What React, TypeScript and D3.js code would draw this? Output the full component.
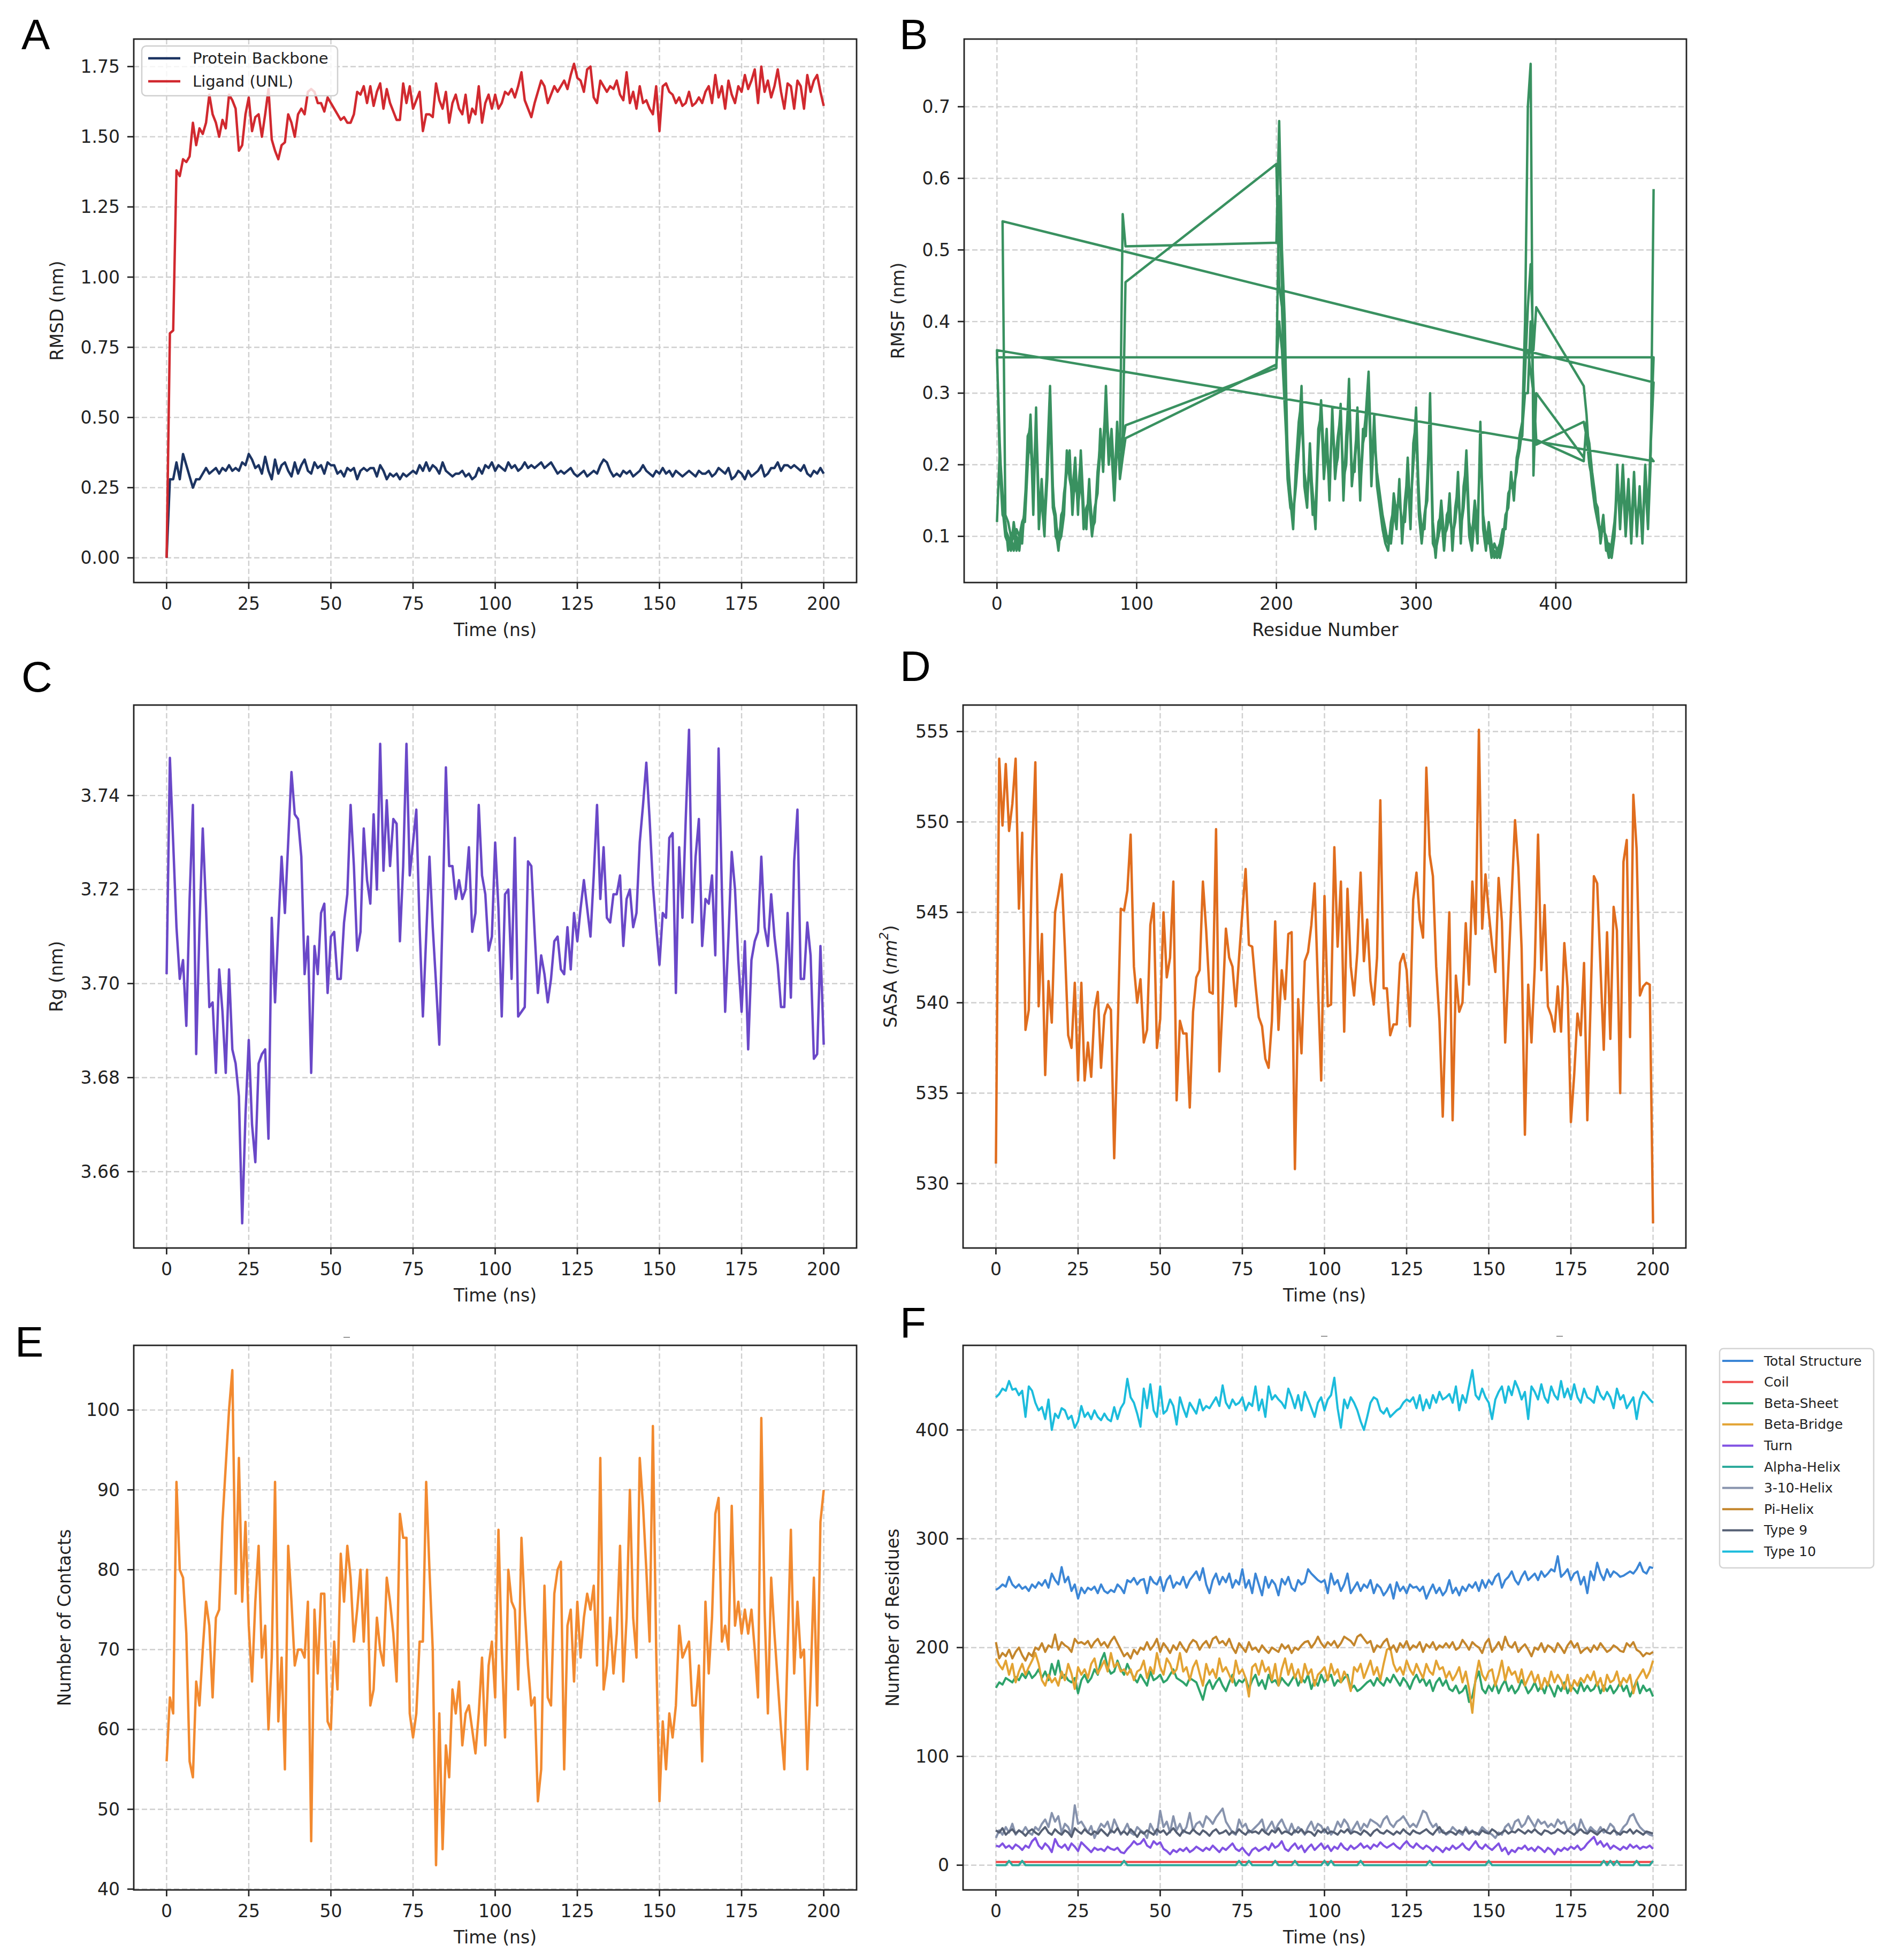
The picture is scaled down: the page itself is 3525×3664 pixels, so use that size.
import * as d3 from "d3"

// ---------- data ----------
const TIME_NS = d3.range(0, 201)
const TIME_TICKS = [0, 25, 50, 75, 100, 125, 150, 175, 200]

const RMSD_BACKBONE = [
  0.00, 0.28, 0.28, 0.34, 0.28, 0.37, 0.33, 0.29, 0.25, 0.28,
  0.28, 0.30, 0.32, 0.30, 0.31, 0.32, 0.30, 0.32, 0.31, 0.33,
  0.31, 0.32, 0.31, 0.34, 0.33, 0.37, 0.35, 0.32, 0.33, 0.30,
  0.36, 0.31, 0.28, 0.35, 0.30, 0.33, 0.34, 0.31, 0.29, 0.34,
  0.30, 0.33, 0.35, 0.31, 0.30, 0.34, 0.32, 0.33, 0.30, 0.34,
  0.33, 0.33, 0.30, 0.31, 0.29, 0.32, 0.31, 0.32, 0.28, 0.31,
  0.32, 0.31, 0.32, 0.32, 0.29, 0.33, 0.31, 0.28, 0.30, 0.29,
  0.30, 0.28, 0.30, 0.29, 0.30, 0.31, 0.30, 0.33, 0.31, 0.34,
  0.31, 0.33, 0.32, 0.30, 0.34, 0.31, 0.30, 0.29, 0.30, 0.30,
  0.31, 0.29, 0.30, 0.28, 0.29, 0.32, 0.30, 0.33, 0.32, 0.34,
  0.31, 0.33, 0.32, 0.31, 0.34, 0.32, 0.33, 0.31, 0.32, 0.34,
  0.32, 0.33, 0.32, 0.33, 0.34, 0.32, 0.33, 0.34, 0.32, 0.30,
  0.31, 0.30, 0.31, 0.32, 0.30, 0.29, 0.30, 0.31, 0.29, 0.30,
  0.31, 0.30, 0.33, 0.35, 0.34, 0.31, 0.29, 0.30, 0.29, 0.31,
  0.30, 0.31, 0.29, 0.30, 0.31, 0.33, 0.31, 0.30, 0.29, 0.31,
  0.30, 0.32, 0.30, 0.31, 0.29, 0.31, 0.30, 0.29, 0.30, 0.31,
  0.30, 0.29, 0.31, 0.30, 0.30, 0.31, 0.29, 0.30, 0.32, 0.31,
  0.30, 0.32, 0.28, 0.29, 0.31, 0.30, 0.28, 0.31, 0.29, 0.30,
  0.31, 0.33, 0.29, 0.30, 0.32, 0.32, 0.34, 0.31, 0.33, 0.33,
  0.32, 0.33, 0.32, 0.31, 0.33, 0.30, 0.29, 0.31, 0.30, 0.32,
  0.30,
]

const RMSD_LIGAND = [
  0.00, 0.80, 0.81, 1.38, 1.36, 1.42, 1.41, 1.43, 1.55, 1.47,
  1.53, 1.51, 1.55, 1.65, 1.58, 1.55, 1.50, 1.56, 1.53, 1.65,
  1.63, 1.60, 1.45, 1.47, 1.58, 1.64, 1.52, 1.57, 1.58, 1.50,
  1.58, 1.67, 1.49, 1.45, 1.42, 1.47, 1.48, 1.58, 1.55, 1.50,
  1.58, 1.60, 1.58, 1.66, 1.67, 1.66, 1.62, 1.62, 1.59, 1.64,
  1.62, 1.60, 1.58, 1.56, 1.57, 1.55, 1.55, 1.58, 1.66, 1.65,
  1.68, 1.62, 1.68, 1.61, 1.66, 1.69, 1.60, 1.67, 1.62, 1.59,
  1.56, 1.56, 1.69, 1.62, 1.68, 1.60, 1.63, 1.66, 1.52, 1.58,
  1.58, 1.57, 1.69, 1.63, 1.60, 1.66, 1.55, 1.62, 1.65, 1.60,
  1.58, 1.65, 1.55, 1.60, 1.58, 1.68, 1.55, 1.62, 1.65, 1.60,
  1.65, 1.60, 1.62, 1.66, 1.65, 1.67, 1.64, 1.68, 1.73, 1.63,
  1.60, 1.57, 1.62, 1.66, 1.70, 1.68, 1.62, 1.65, 1.68, 1.66,
  1.68, 1.70, 1.67, 1.72, 1.76, 1.71, 1.70, 1.66, 1.74, 1.75,
  1.64, 1.62, 1.70, 1.68, 1.66, 1.68, 1.67, 1.70, 1.65, 1.63,
  1.73, 1.62, 1.66, 1.60, 1.68, 1.62, 1.63, 1.60, 1.58, 1.68,
  1.52, 1.68, 1.69, 1.66, 1.65, 1.62, 1.64, 1.61, 1.62, 1.66,
  1.61, 1.62, 1.64, 1.62, 1.66, 1.68, 1.62, 1.72, 1.64, 1.68,
  1.60, 1.70, 1.65, 1.62, 1.68, 1.66, 1.72, 1.67, 1.70, 1.74,
  1.62, 1.75, 1.66, 1.70, 1.64, 1.68, 1.74, 1.66, 1.60, 1.69,
  1.68, 1.60, 1.70, 1.68, 1.60, 1.72, 1.66, 1.70, 1.72, 1.66,
  1.61,
]

// RMSF: four chains, each resolved in three stretches of residues
const RESIDUES = [...d3.range(0, 94, 2), ...d3.range(200, 388, 2), ...d3.range(420, 472, 2)]
const RES_TICKS = [0, 100, 200, 300, 400]

const RMSF_CHAIN_1 = [
  0.12, 0.22, 0.16, 0.11, 0.10, 0.08, 0.12, 0.09, 0.09, 0.11,
  0.14, 0.24, 0.25, 0.14, 0.28, 0.11, 0.17, 0.12, 0.19, 0.29,
  0.15, 0.13, 0.08, 0.12, 0.15, 0.21, 0.20, 0.14, 0.18, 0.15,
  0.20, 0.12, 0.13, 0.16, 0.11, 0.12, 0.19, 0.23, 0.21, 0.31,
  0.21, 0.24, 0.17, 0.25, 0.22, 0.55, 0.505,
  0.51, 0.68, 0.50, 0.40, 0.21, 0.16, 0.12, 0.19, 0.24, 0.31,
  0.17, 0.14, 0.23, 0.15, 0.12, 0.25, 0.27, 0.19, 0.25, 0.15,
  0.28, 0.18, 0.22, 0.28, 0.16, 0.23, 0.32, 0.17, 0.21, 0.26,
  0.15, 0.25, 0.24, 0.31, 0.18, 0.27, 0.17, 0.14, 0.11, 0.09,
  0.08, 0.12, 0.14, 0.11, 0.18, 0.09, 0.15, 0.19, 0.11, 0.23,
  0.26, 0.13, 0.09, 0.13, 0.16, 0.30, 0.11, 0.07, 0.12, 0.13,
  0.08, 0.13, 0.14, 0.10, 0.12, 0.19, 0.09, 0.17, 0.20, 0.10,
  0.08, 0.13, 0.09, 0.26, 0.11, 0.08, 0.12, 0.09, 0.07, 0.08,
  0.07, 0.09, 0.13, 0.14, 0.19, 0.15, 0.21, 0.23, 0.24, 0.33,
  0.42, 0.48, 0.36, 0.42,
  0.31, 0.27, 0.21, 0.17, 0.14, 0.12, 0.10, 0.13, 0.08, 0.09,
  0.08, 0.11, 0.19, 0.11, 0.18, 0.10, 0.16, 0.11, 0.19, 0.10,
  0.17, 0.10, 0.20, 0.13, 0.23, 0.315,
]
const RMSF_CHAIN_2 = [
  null, null, 0.54, 0.13, 0.12, 0.10, 0.08, 0.11, 0.10, 0.12,
  0.12, 0.20, 0.27, 0.16, 0.25, 0.13, 0.15, 0.10, 0.21, 0.31,
  0.17, 0.10, 0.09, 0.10, 0.13, 0.22, 0.18, 0.16, 0.21, 0.13,
  0.22, 0.14, 0.11, 0.18, 0.10, 0.14, 0.16, 0.25, 0.19, 0.28,
  0.23, 0.22, 0.15, 0.23, 0.20, 0.24, 0.455,
  0.62, 0.45, 0.42, 0.30, 0.18, 0.14, 0.13, 0.17, 0.22, 0.27,
  0.19, 0.16, 0.20, 0.13, 0.14, 0.22, 0.29, 0.21, 0.22, 0.17,
  0.26, 0.20, 0.24, 0.27, 0.18, 0.20, 0.29, 0.19, 0.19, 0.28,
  0.17, 0.23, 0.27, 0.33, 0.20, 0.24, 0.19, 0.16, 0.13, 0.11,
  0.09, 0.10, 0.16, 0.13, 0.16, 0.11, 0.13, 0.21, 0.13, 0.21,
  0.28, 0.15, 0.11, 0.11, 0.18, 0.27, 0.09, 0.08, 0.10, 0.15,
  0.10, 0.11, 0.16, 0.08, 0.14, 0.17, 0.11, 0.15, 0.22, 0.12,
  0.10, 0.15, 0.11, 0.24, 0.13, 0.10, 0.10, 0.07, 0.09, 0.08,
  0.09, 0.11, 0.11, 0.16, 0.17, 0.17, 0.19, 0.24, 0.26, 0.40,
  0.70, 0.76, 0.185, 0.30,
  0.21, 0.25, 0.23, 0.19, 0.16, 0.12, 0.11, 0.11, 0.10, 0.08,
  0.09, 0.12, 0.17, 0.13, 0.20, 0.12, 0.18, 0.09, 0.17, 0.12,
  0.15, 0.10, 0.18, 0.11, 0.21, 0.205,
]
const RMSF_CHAIN_3 = [
  0.36, 0.20, 0.13, 0.12, 0.08, 0.10, 0.11, 0.08, 0.10, 0.09,
  0.15, 0.21, 0.23, 0.17, 0.26, 0.12, 0.18, 0.11, 0.18, 0.28,
  0.14, 0.12, 0.10, 0.11, 0.16, 0.19, 0.22, 0.13, 0.19, 0.14,
  0.18, 0.13, 0.12, 0.17, 0.12, 0.13, 0.17, 0.22, 0.23, 0.29,
  0.20, 0.25, 0.18, 0.24, 0.19, 0.23, 0.255,
  0.335, 0.575, 0.45, 0.35, 0.22, 0.15, 0.11, 0.20, 0.26, 0.29,
  0.18, 0.15, 0.21, 0.16, 0.11, 0.23, 0.28, 0.18, 0.23, 0.16,
  0.27, 0.19, 0.21, 0.285, 0.15, 0.24, 0.30, 0.18, 0.20, 0.25,
  0.17, 0.24, 0.26, 0.32, 0.17, 0.25, 0.19, 0.15, 0.12, 0.10,
  0.09, 0.11, 0.15, 0.12, 0.17, 0.10, 0.14, 0.20, 0.12, 0.22,
  0.25, 0.14, 0.10, 0.12, 0.17, 0.28, 0.10, 0.08, 0.11, 0.14,
  0.09, 0.12, 0.15, 0.09, 0.13, 0.18, 0.10, 0.16, 0.21, 0.11,
  0.09, 0.14, 0.10, 0.25, 0.12, 0.09, 0.11, 0.08, 0.08, 0.07,
  0.08, 0.10, 0.12, 0.15, 0.18, 0.16, 0.20, 0.22, 0.25, 0.36,
  0.36, 0.33, 0.30, 0.228,
  0.26, 0.24, 0.20, 0.18, 0.15, 0.14, 0.09, 0.12, 0.09, 0.07,
  0.08, 0.10, 0.20, 0.12, 0.17, 0.11, 0.18, 0.10, 0.18, 0.11,
  0.16, 0.09, 0.19, 0.12, 0.24, 0.35,
]
const RMSF_CHAIN_4 = [
  0.35, 0.23, 0.14, 0.10, 0.09, 0.09, 0.10, 0.10, 0.08, 0.12,
  0.13, 0.23, 0.26, 0.13, 0.27, 0.14, 0.16, 0.13, 0.20, 0.30,
  0.16, 0.11, 0.08, 0.13, 0.14, 0.20, 0.21, 0.15, 0.17, 0.16,
  0.21, 0.11, 0.14, 0.15, 0.10, 0.13, 0.18, 0.24, 0.20, 0.30,
  0.22, 0.23, 0.16, 0.26, 0.18, 0.21, 0.237,
  0.34, 0.40, 0.36, 0.28, 0.20, 0.16, 0.13, 0.17, 0.23, 0.30,
  0.19, 0.15, 0.22, 0.14, 0.13, 0.24, 0.27, 0.21, 0.24, 0.17,
  0.27, 0.20, 0.23, 0.28, 0.17, 0.21, 0.31, 0.19, 0.20, 0.27,
  0.16, 0.23, 0.25, 0.33, 0.19, 0.26, 0.18, 0.15, 0.12, 0.10,
  0.10, 0.09, 0.13, 0.14, 0.15, 0.12, 0.12, 0.18, 0.14, 0.20,
  0.25, 0.16, 0.09, 0.13, 0.15, 0.27, 0.12, 0.08, 0.10, 0.12,
  0.10, 0.11, 0.13, 0.10, 0.12, 0.16, 0.11, 0.14, 0.19, 0.12,
  0.10, 0.12, 0.11, 0.23, 0.13, 0.10, 0.09, 0.09, 0.07, 0.08,
  0.08, 0.10, 0.12, 0.15, 0.18, 0.16, 0.20, 0.22, 0.25, 0.30,
  0.30, 0.40, 0.31, 0.235,
  0.205, 0.26, 0.22, 0.17, 0.14, 0.13, 0.10, 0.12, 0.09, 0.08,
  0.07, 0.10, 0.18, 0.12, 0.19, 0.11, 0.17, 0.10, 0.18, 0.11,
  0.16, 0.09, 0.19, 0.12, 0.22, 0.585,
]

const RG = [
  3.702, 3.748, 3.730, 3.712, 3.701, 3.705, 3.691, 3.718, 3.738, 3.685,
  3.712, 3.733, 3.716, 3.695, 3.696, 3.681, 3.703, 3.694, 3.681, 3.703,
  3.686, 3.683, 3.676, 3.649, 3.672, 3.688, 3.670, 3.662, 3.683, 3.685,
  3.686, 3.667, 3.714, 3.696, 3.712, 3.727, 3.715, 3.730, 3.745, 3.736,
  3.735, 3.727, 3.702, 3.710, 3.681, 3.708, 3.702, 3.715, 3.717, 3.698,
  3.710, 3.711, 3.701, 3.701, 3.713, 3.719, 3.738, 3.725, 3.707, 3.711,
  3.733, 3.722, 3.717, 3.736, 3.720, 3.751, 3.724, 3.739, 3.725, 3.735,
  3.734, 3.709, 3.725, 3.751, 3.723, 3.730, 3.737, 3.712, 3.693, 3.710,
  3.727, 3.712, 3.700, 3.687, 3.715, 3.746, 3.725, 3.725, 3.718, 3.722,
  3.718, 3.720, 3.729, 3.711, 3.715, 3.738, 3.723, 3.719, 3.707, 3.710,
  3.730, 3.716, 3.693, 3.719, 3.720, 3.701, 3.731, 3.693, 3.694, 3.695,
  3.726, 3.725, 3.711, 3.698, 3.706, 3.702, 3.696, 3.701, 3.709, 3.710,
  3.703, 3.702, 3.712, 3.703, 3.715, 3.709, 3.716, 3.722, 3.716, 3.710,
  3.723, 3.738, 3.718, 3.729, 3.714, 3.713, 3.719, 3.719, 3.723, 3.708,
  3.718, 3.720, 3.712, 3.715, 3.730, 3.738, 3.747, 3.735, 3.721, 3.712,
  3.704, 3.715, 3.714, 3.731, 3.732, 3.698, 3.729, 3.714, 3.735, 3.754,
  3.713, 3.727, 3.735, 3.708, 3.718, 3.717, 3.723, 3.706, 3.750, 3.720,
  3.694, 3.710, 3.728, 3.720, 3.705, 3.694, 3.709, 3.686, 3.705, 3.709,
  3.711, 3.727, 3.712, 3.708, 3.719, 3.710, 3.704, 3.695, 3.695, 3.715,
  3.697, 3.726, 3.737, 3.701, 3.701, 3.713, 3.706, 3.684, 3.685, 3.708,
  3.687,
]

const SASA = [
  531.1, 553.5, 549.8, 553.2, 549.5, 551.0, 553.5, 545.2, 549.4, 538.5,
  539.6, 548.0, 553.3, 539.8, 543.8, 536.0, 541.2, 538.9, 545.0, 546.0,
  547.1, 543.0, 538.2, 537.5, 541.1, 535.7, 541.1, 535.7, 537.8, 535.9,
  539.6, 540.6, 536.4, 539.3, 539.9, 539.6, 531.4, 538.0, 545.2, 545.1,
  546.2, 549.3, 542.0, 540.0, 541.3, 537.8, 538.5, 544.3, 545.5, 537.5,
  539.1, 545.0, 541.4, 542.5, 546.7, 534.6, 539.0, 538.3, 538.3, 534.2,
  539.5, 541.4, 541.8, 546.7, 544.0, 540.6, 540.5, 549.6, 536.2, 540.0,
  544.1, 542.5, 542.0, 539.8, 542.5, 545.0, 547.4, 543.2, 543.1, 541.0,
  539.2, 538.7, 536.9, 536.4, 539.0, 544.5, 538.5, 541.8, 540.2, 543.8,
  543.9, 530.8, 540.2, 537.2, 542.3, 542.8, 544.3, 546.6, 541.0, 535.7,
  545.9, 539.8, 539.9, 548.6, 543.1, 546.7, 538.4, 546.3, 542.0, 540.4,
  542.8, 547.2, 542.3, 544.6, 541.2, 539.9, 542.5, 551.2, 540.8, 540.8,
  538.2, 538.8, 538.8, 542.2, 542.7, 541.8, 538.7, 545.7, 547.2, 544.6,
  543.6, 553.0, 548.2, 547.0, 542.0, 539.0, 533.7, 540.0, 545.0, 533.5,
  541.5, 539.5, 540.0, 544.4, 541.0, 546.7, 543.8, 555.1, 544.1, 547.1,
  545.0, 543.2, 541.7, 546.9, 544.5, 537.8, 542.0, 546.0, 550.1, 547.5,
  543.0, 532.7, 541.0, 537.8, 542.0, 549.3, 541.8, 545.4, 539.8, 539.3,
  538.4, 540.9, 538.4, 543.3, 540.8, 533.4, 536.0, 539.4, 538.2, 542.2,
  533.5, 540.0, 547.0, 546.6, 542.0, 537.4, 543.9, 538.0, 545.3, 544.0,
  535.0, 547.8, 549.0, 538.1, 551.5, 548.5, 540.4, 540.9, 541.1, 541.0,
  527.8,
]

const CONTACTS = [
  56, 64, 62, 91, 80, 79, 72, 56, 54, 66,
  63, 70, 76, 73, 64, 74, 75, 86, 93, 100,
  105, 77, 94, 76, 86, 73, 66, 76, 83, 69,
  73, 60, 69, 91, 61, 69, 55, 83, 76, 68,
  70, 70, 69, 76, 46, 75, 67, 77, 77, 61,
  60, 71, 65, 82, 76, 83, 79, 71, 75, 80,
  71, 80, 63, 65, 74, 70, 68, 79, 76, 72,
  66, 87, 84, 84, 62, 59, 62, 71, 71, 91,
  80, 70, 43, 62, 45, 58, 54, 65, 62, 66,
  58, 62, 63, 60, 57, 62, 69, 58, 68, 71,
  64, 85, 70, 59, 80, 76, 75, 65, 84, 75,
  68, 63, 64, 51, 55, 78, 64, 63, 77, 80,
  81, 55, 73, 75, 66, 76, 69, 74, 77, 75,
  78, 68, 94, 65, 68, 74, 67, 72, 83, 66,
  74, 90, 74, 69, 94, 88, 80, 71, 98, 70,
  51, 61, 55, 62, 59, 63, 73, 69, 70, 71,
  63, 63, 68, 56, 76, 67, 74, 87, 89, 71,
  73, 70, 88, 73, 76, 72, 75, 72, 75, 70,
  64, 99, 75, 62, 79, 72, 66, 60, 55, 70,
  85, 67, 76, 69, 70, 55, 66, 79, 63, 86,
  90,
]

// secondary structure counts (residues)
const SS_TOTAL = [
  253, 255, 258, 256, 265, 258, 255, 258, 254, 256,
  252, 258, 255, 260, 257, 262, 255, 268, 262, 258,
  274, 260, 265, 252, 258, 245, 255, 250, 255, 253,
  256, 250, 258, 252, 250, 253, 251, 258, 255, 250,
  262, 260, 264, 258, 262, 263, 250, 265, 260, 258,
  265, 252, 262, 266, 255, 260, 258, 265, 255, 262,
  266, 270, 262, 273, 258, 250, 262, 268, 258, 265,
  260, 268, 255, 262, 258, 272, 255, 262, 250, 268,
  258, 248, 265, 255, 262, 258, 248, 263, 258, 265,
  255, 252, 262, 258, 260, 272, 268, 265, 262, 260,
  262, 250, 268, 258, 262, 252, 258, 268, 250, 255,
  260, 252, 258, 255, 262, 250, 258, 255, 248, 252,
  258, 245, 260, 252, 256, 250, 258, 255, 256, 252,
  256, 245, 252, 258, 250, 255, 248, 252, 262, 250,
  255, 248, 256, 252, 258, 255, 260, 252, 262, 255,
  262, 258, 265, 268, 255, 262, 265, 270, 262, 258,
  265, 270, 262, 265, 268, 262, 270, 265, 268, 272,
  270, 284, 265, 268, 272, 262, 268, 270, 258, 265,
  250, 270, 262, 278, 268, 262, 272, 265, 270, 268,
  265, 266, 268, 270, 268, 272, 278, 270, 268, 274,
  273,
]
const SS_COIL = [
  3, 3, 3, 3, 3, 3, 3, 3, 3, 3,
  3, 3, 3, 3, 3, 3, 3, 3, 3, 3,
  3, 3, 3, 3, 3, 3, 3, 3, 3, 3,
  3, 3, 3, 3, 3, 3, 3, 3, 3, 3,
  3, 3, 3, 3, 3, 3, 3, 3, 3, 3,
  3, 3, 3, 3, 3, 3, 3, 3, 3, 3,
  3, 3, 3, 3, 3, 3, 3, 3, 3, 3,
  3, 3, 3, 3, 3, 3, 3, 3, 3, 3,
  3, 3, 3, 3, 3, 3, 3, 3, 3, 3,
  3, 3, 3, 3, 3, 3, 3, 3, 3, 3,
  3, 3, 3, 3, 3, 3, 3, 3, 3, 3,
  3, 3, 3, 3, 3, 3, 3, 3, 3, 3,
  3, 3, 3, 3, 3, 3, 3, 3, 3, 3,
  3, 3, 3, 3, 3, 3, 3, 3, 3, 3,
  3, 3, 3, 3, 3, 3, 3, 3, 3, 3,
  3, 3, 3, 3, 3, 3, 3, 3, 3, 3,
  3, 3, 3, 3, 3, 3, 3, 3, 3, 3,
  3, 3, 3, 3, 3, 3, 3, 3, 3, 3,
  3, 3, 3, 3, 3, 3, 3, 3, 3, 3,
  3, 3, 3, 3, 3, 3, 3, 3, 3, 3,
  3,
]
const SS_BETA_SHEET = [
  163, 168, 166, 172, 170, 168, 173, 170, 176, 172,
  178, 172, 175, 180, 172, 178, 170, 185, 175, 188,
  172, 175, 170, 168, 172, 158, 170, 175, 168, 172,
  180, 175, 188, 195, 182, 176, 178, 188, 180, 175,
  185, 178, 172, 168, 175, 170, 165, 178, 170, 172,
  175, 168, 170, 175, 180, 172, 170, 168, 165, 172,
  170, 168, 160, 152, 165, 170, 162, 168, 172, 165,
  160, 168, 175, 165, 170, 168, 172, 162, 170, 175,
  165, 170, 162, 175, 168, 170, 165, 172, 168, 165,
  170, 175, 165, 172, 168, 175, 162, 170, 165, 175,
  168, 172, 175, 165, 170, 168, 172, 175, 162, 165,
  160, 162, 165, 168, 170, 165, 172, 168, 165, 172,
  168, 175, 170, 165, 172, 168, 162, 170, 175, 168,
  172, 165, 170, 160, 168, 172, 165, 170, 162, 160,
  165, 158, 160, 165, 150, 155, 170, 178, 162, 158,
  165, 160, 168, 158, 165, 170, 160, 165, 158, 162,
  170, 165, 158, 162, 168, 160, 165, 158, 168, 162,
  155, 165, 160, 168, 158, 165, 162, 158, 168, 160,
  165, 160, 162, 168, 158, 165, 160, 165, 158, 162,
  168, 160, 165, 155, 162, 170, 158, 165, 160, 162,
  155,
]
const SS_BETA_BRIDGE = [
  190, 184, 180, 188, 175, 185, 168, 178, 185, 175,
  182, 188, 195, 185, 170, 165, 175, 168, 172, 165,
  178, 170, 185, 176, 162, 182, 175, 180, 172, 185,
  190, 176, 182, 188, 178, 195, 182, 186, 178, 180,
  175, 180, 170, 178, 180, 188, 172, 182, 176, 195,
  182, 175, 190, 185, 176, 180, 195, 178, 182, 170,
  182, 188, 176, 165, 185, 175, 180, 172, 190, 178,
  182, 175, 168, 188, 176, 180, 172, 155, 182, 185,
  175, 188, 178, 182, 170, 185, 165, 180, 190, 175,
  185, 172, 180, 168, 185, 175, 180, 165, 175, 178,
  182, 170, 185, 175, 180, 168, 178, 172, 160, 182,
  178, 185, 172, 180, 188, 175, 182, 170, 185, 198,
  200, 185, 178, 182, 175, 188, 180, 175, 185, 178,
  172, 185, 178, 175, 188, 180, 182, 172, 178, 170,
  175, 182, 168, 178, 162, 140, 172, 188, 175, 170,
  178, 180, 165, 175, 188, 170, 182, 175, 178, 168,
  180, 165, 172, 178, 168, 175, 162, 172, 165, 178,
  168, 175, 170, 162, 175, 160, 170, 165, 172, 168,
  175, 170, 178, 165, 172, 160, 175, 168, 170, 178,
  165, 172, 168, 175, 158, 170, 175, 180, 172, 178,
  188,
]
const SS_TURN = [
  18, 17, 20, 16, 18, 15, 19, 17, 14, 18,
  16, 22, 25, 18, 15, 20, 17, 12, 24, 18,
  16, 19, 14, 20, 17, 13, 21, 18, 15, 12,
  16, 14, 15, 13, 17, 15, 14, 16, 12, 11,
  15, 18, 22, 19, 20, 24, 18, 16, 22, 19,
  21, 15, 13, 10, 14, 12, 15, 13, 16, 12,
  14, 17, 15, 13, 16, 14, 18, 15, 12, 16,
  14, 17, 20, 15, 13, 16, 12, 9, 14, 16,
  13, 15, 17, 14, 20, 16, 18, 22, 15, 13,
  17, 20, 15, 18, 12, 16, 19, 14, 17, 20,
  15, 18, 13, 17, 15, 20, 16, 14, 18, 15,
  17, 20, 16, 18, 15, 19, 17, 21, 18, 16,
  18, 20, 17, 15, 19, 22, 18, 16, 20, 17,
  15, 18, 16, 13, 17, 15, 12, 16, 14, 18,
  15, 17, 20, 16, 14, 18, 22, 17, 15, 19,
  16, 14, 17, 20, 13, 16, 10, 14, 12, 16,
  15, 18, 14, 16, 13, 17, 15, 12, 16, 14,
  10, 15, 13, 16, 14, 17, 15, 18, 14, 16,
  20, 23, 26, 19, 22, 17, 20, 15, 18, 16,
  14, 17, 15, 19, 16, 18, 15, 17, 16, 18,
  15,
]
const SS_ALPHA_HELIX = [
  0, 0, 0, 0, 4, 0, 0, 0, 4, 0,
  0, 0, 0, 0, 0, 0, 0, 0, 0, 0,
  0, 0, 0, 0, 0, 0, 0, 0, 0, 0,
  0, 0, 0, 0, 0, 0, 0, 0, 0, 4,
  0, 0, 0, 0, 0, 0, 0, 0, 0, 0,
  0, 0, 0, 0, 0, 0, 0, 0, 0, 0,
  0, 0, 0, 0, 0, 0, 0, 0, 0, 0,
  0, 0, 0, 0, 4, 0, 0, 4, 0, 0,
  0, 0, 0, 0, 0, 4, 0, 0, 0, 0,
  0, 4, 0, 0, 0, 0, 0, 0, 0, 0,
  4, 0, 4, 0, 0, 0, 0, 0, 0, 0,
  0, 4, 0, 0, 0, 0, 0, 0, 0, 0,
  0, 0, 0, 0, 0, 0, 0, 0, 0, 0,
  0, 0, 4, 0, 0, 0, 0, 0, 0, 0,
  0, 0, 0, 0, 0, 0, 0, 0, 0, 0,
  4, 0, 0, 0, 0, 0, 0, 0, 0, 0,
  0, 0, 0, 0, 0, 0, 0, 0, 0, 0,
  0, 0, 0, 0, 0, 0, 0, 0, 0, 0,
  0, 0, 0, 0, 0, 4, 0, 4, 0, 4,
  0, 0, 0, 0, 0, 4, 0, 0, 0, 0,
  4,
]
const SS_310_HELIX = [
  25, 32, 28, 35, 30, 38, 28, 32, 30, 35,
  30, 28, 35, 32, 38, 42, 35, 48, 40, 45,
  30, 38, 35, 28, 55, 38, 40, 35, 30, 36,
  25, 32, 38, 35, 40, 30, 42, 35, 28, 32,
  38, 30, 28, 35, 32, 30, 25, 38, 32, 28,
  50, 35, 40, 30, 45, 32, 38, 30, 35, 48,
  32, 38, 40, 35, 45, 42, 38, 44, 48, 52,
  40, 35, 30, 28, 42, 35, 38, 30, 32, 35,
  38, 42, 30, 35, 40, 32, 38, 42, 35, 30,
  38, 30, 35, 32, 28, 35, 40, 32, 38, 36,
  30, 35, 28, 32, 40, 35, 42, 38, 30, 35,
  40, 32, 38, 35, 42, 40, 38, 35, 42, 45,
  38, 35, 40, 42, 45, 40, 35, 38, 35, 42,
  50, 48, 40, 35, 38, 30, 32, 28, 30, 35,
  32, 30, 28, 35, 30, 32, 28, 30, 35, 32,
  30, 28, 25, 30, 28, 35, 38, 32, 40, 42,
  35, 38, 45, 40, 35, 42, 38, 40, 35, 38,
  35, 42, 38, 40, 32, 35, 38, 30, 42, 35,
  30, 35, 32, 30, 35, 30, 32, 38, 35, 28,
  30, 35, 38, 45, 47, 40, 35, 32, 30, 28,
  27,
]
const SS_PI_HELIX = [
  205, 190, 195, 192, 198, 190, 196, 200, 193, 188,
  195, 192, 200, 198, 204, 196, 202, 200, 212, 198,
  205, 202, 200, 196, 208, 204, 205, 203, 206, 200,
  205, 208, 202, 205, 200, 206, 210, 204, 198, 192,
  195, 190, 198, 194, 200, 198, 205, 198, 202, 208,
  196, 204, 200, 195, 202, 198, 205, 200, 196, 203,
  207, 205, 198, 203, 206, 200, 208, 210, 204, 206,
  202, 208, 200, 195, 204, 200, 196, 205, 198, 200,
  196, 202, 198, 195, 200, 198, 196, 203, 199, 202,
  195, 200, 198, 202, 205, 206, 200, 204, 210, 204,
  200, 205, 202, 206, 200, 204, 210, 208, 206, 202,
  210, 212, 208, 204, 206, 196, 202, 200, 205, 208,
  198, 202, 196, 204, 200, 206, 198, 202, 200, 205,
  196, 203, 200, 205, 198, 202, 200, 204, 200, 205,
  198, 200, 207, 203, 198, 205, 202, 200, 195, 204,
  208, 196, 200, 205, 198, 210, 202, 200, 205, 196,
  200, 203, 198, 192, 200, 198, 204, 196, 202, 200,
  196, 204, 200, 195, 202, 206, 200, 204, 195, 198,
  200, 196, 202, 198, 204, 200, 196, 198, 202, 200,
  197, 196, 204, 201, 205, 198, 196, 192, 195, 194,
  196,
]
const SS_TYPE_9 = [
  32, 30, 34, 28, 31, 33, 29, 32, 30, 27,
  31, 33, 30, 28, 32, 35, 30, 28, 33, 30,
  28, 32, 30, 26, 34, 31, 29, 33, 30, 28,
  31, 29, 33, 30, 27, 32, 30, 34, 29, 31,
  28, 33, 30, 26, 31, 29, 32, 30, 28, 33,
  30, 32, 28, 31, 34, 30, 27, 32, 30, 29,
  33, 30, 28, 32, 30, 27, 31, 33, 29, 30,
  32, 28, 31, 29, 33, 30, 28, 32, 30, 31,
  29, 33, 30, 28, 32, 30, 34, 29, 31, 30,
  28, 32, 30, 33, 29, 31, 30, 27, 32, 30,
  33, 29, 31, 30, 28, 32, 30, 33, 29, 31,
  30, 28, 32, 30, 27, 31, 33, 30, 29, 32,
  30, 28, 31, 29, 33, 30, 28, 32, 30, 29,
  31, 33, 30, 28, 32, 35, 30, 29, 31, 30,
  28, 32, 30, 33, 29, 31, 30, 28, 32, 30,
  29, 33, 31, 28, 30, 32, 29, 31, 30, 33,
  31, 29, 32, 30, 33, 30, 28, 32, 31, 29,
  30, 33, 31, 29, 32, 30, 28, 31, 33, 30,
  29, 32, 30, 28, 31, 33, 30, 29, 32, 30,
  28, 31, 30, 33, 29, 32, 30, 28, 31, 30,
  29,
]
const SS_TYPE_10 = [
  430, 433, 438, 436, 445, 437, 438, 432, 436, 412,
  440, 436, 425, 418, 421, 410, 428, 400, 415, 411,
  420, 418, 410, 413, 402, 408, 422, 412, 416, 410,
  418, 412, 409, 415, 410, 408, 421, 410, 420, 425,
  447, 430, 425, 415, 403, 438, 420, 442, 418, 412,
  440, 415, 418, 428, 422, 405, 430, 420, 412, 425,
  420, 415, 428, 418, 422, 420, 425, 430, 422, 441,
  425, 420, 428, 423, 425, 430, 418, 425, 422, 440,
  418, 428, 412, 440, 428, 432, 428, 425, 420, 438,
  430, 420, 432, 418, 435, 428, 420, 412, 425, 430,
  418, 428, 432, 448, 420, 402, 428, 420, 430, 425,
  418, 408, 400, 412, 425, 430, 428, 418, 415, 420,
  412, 415, 418, 420, 425, 428, 426, 430, 420, 432,
  418, 428, 420, 432, 425, 435, 428, 430, 433, 425,
  440, 418, 432, 425, 440, 455, 432, 428, 438, 430,
  425, 410, 428, 435, 440, 425, 440, 432, 445, 438,
  428, 435, 410, 440, 435, 428, 442, 430, 425, 440,
  432, 428, 445, 430, 438, 428, 442, 430, 425, 438,
  430, 428, 425, 440, 432, 428, 435, 430, 420, 438,
  428, 432, 420, 425, 430, 410, 428, 435, 432, 428,
  425,
]

const SS_NAMES = [
  "Total Structure", "Coil", "Beta-Sheet", "Beta-Bridge", "Turn",
  "Alpha-Helix", "3-10-Helix", "Pi-Helix", "Type 9", "Type 10",
]
const SS_VALUES = [
  SS_TOTAL, SS_COIL, SS_BETA_SHEET, SS_BETA_BRIDGE, SS_TURN,
  SS_ALPHA_HELIX, SS_310_HELIX, SS_PI_HELIX, SS_TYPE_9, SS_TYPE_10,
]
const SS_COLORS = [
  "#3b86d6", "#ef4a4a", "#2ea36b", "#e3a333", "#8152e3",
  "#2eaa9c", "#8793ad", "#c4862c", "#566074", "#1cbcdc",
]

// ---------- helpers ----------
const FONT = "'DejaVu Sans', sans-serif"
type Pt = [number, number]
type Box = { l: number; r: number; t: number; b: number }
type Series = { pts: Pt[]; color: string; width: number; opacity?: number }

function padded(values: number[]): [number, number] {
  const [lo, hi] = d3.extent(values) as [number, number]
  const m = (hi - lo) * 0.05
  return [lo - m, hi + m]
}

function zip(xs: number[], ys: (number | null)[]): Pt[] {
  const out: Pt[] = []
  ys.forEach((v, i) => {
    if (v != null && xs[i] != null) out.push([xs[i], v])
  })
  return out
}

interface PanelProps {
  letter: string
  letterX: number
  letterY: number
  box: Box
  xDomain: [number, number]
  yDomain: [number, number]
  xTicks: number[]
  yTicks: number[]
  yFmt: (v: number) => string
  xLabel: string
  yLabel: React.ReactNode
  yLabelX: number
  series: Series[]
  children?: React.ReactNode
}

function Panel(p: PanelProps) {
  const { box } = p
  const x = d3.scaleLinear().domain(p.xDomain).range([box.l, box.r])
  const y = d3.scaleLinear().domain(p.yDomain).range([box.b, box.t])
  const line = d3
    .line<Pt>()
    .x((d) => x(d[0]))
    .y((d) => y(d[1]))
  const cx = (box.l + box.r) / 2
  const cy = (box.t + box.b) / 2
  const clipId = "clip-" + p.letter

  return (
    <g>
      <text x={p.letterX} y={p.letterY} fontFamily="'Liberation Sans', Arial, sans-serif" fontSize={80} fill="#000">
        {p.letter}
      </text>
      <clipPath id={clipId}>
        <rect x={box.l} y={box.t} width={box.r - box.l} height={box.b - box.t} />
      </clipPath>
      {/* grid */}
      <g stroke="#c4c4c4" strokeWidth={2.4} strokeDasharray="10 5" opacity={0.8}>
        {p.xTicks.map((t) => (
          <line key={"gx" + t} x1={x(t)} x2={x(t)} y1={box.t} y2={box.b} />
        ))}
        {p.yTicks.map((t) => (
          <line key={"gy" + t} x1={box.l} x2={box.r} y1={y(t)} y2={y(t)} />
        ))}
      </g>
      {/* data */}
      <g clipPath={`url(#${clipId})`} fill="none" strokeLinejoin="round" strokeLinecap="butt">
        {p.series.map((s, i) => (
          <path key={i} d={line(s.pts) ?? ""} stroke={s.color} strokeWidth={s.width} opacity={s.opacity ?? 1} />
        ))}
      </g>
      {/* frame */}
      <rect x={box.l} y={box.t} width={box.r - box.l} height={box.b - box.t} fill="none" stroke="#222" strokeWidth={2.8} />
      {/* ticks */}
      <g stroke="#222" strokeWidth={2.7}>
        {p.xTicks.map((t) => (
          <line key={"tx" + t} x1={x(t)} x2={x(t)} y1={box.b} y2={box.b + 12} />
        ))}
        {p.yTicks.map((t) => (
          <line key={"ty" + t} x1={box.l - 12} x2={box.l} y1={y(t)} y2={y(t)} />
        ))}
      </g>
      <g fontFamily={FONT} fontSize={33} fill="#222">
        {p.xTicks.map((t) => (
          <text key={"lx" + t} x={x(t)} y={box.b + 51} textAnchor="middle">
            {d3.format("d")(t)}
          </text>
        ))}
        {p.yTicks.map((t) => (
          <text key={"ly" + t} x={box.l - 26} y={y(t)} textAnchor="end" dominantBaseline="central">
            {p.yFmt(t)}
          </text>
        ))}
        <text x={cx} y={box.b + 100} textAnchor="middle">
          {p.xLabel}
        </text>
        <text transform={`translate(${p.yLabelX},${cy}) rotate(-90)`} textAnchor="middle" dominantBaseline="central">
          {p.yLabel}
        </text>
      </g>
      {p.children}
    </g>
  )
}

export default function App() {
  const timeDomain = padded(TIME_NS)
  const chains = [RMSF_CHAIN_1, RMSF_CHAIN_2, RMSF_CHAIN_3, RMSF_CHAIN_4]
  // chains are concatenated into one trace, as in the source plot
  const rmsfPts: Pt[] = chains.flatMap((c) => zip(RESIDUES, c))
  const allRmsf = rmsfPts.map((d) => d[1])

  const boxA: Box = { l: 250, r: 1601, t: 73, b: 1089 }
  const boxB: Box = { l: 1802, r: 3152, t: 73, b: 1089 }
  const boxC: Box = { l: 250, r: 1601, t: 1318, b: 2333 }
  const boxD: Box = { l: 1800, r: 3151, t: 1318, b: 2333 }
  const boxE: Box = { l: 250, r: 1601, t: 2515, b: 3533 }
  const boxF: Box = { l: 1800, r: 3151, t: 2515, b: 3533 }

  const rmsdLegend = [
    { name: "Protein Backbone", color: "#1c3462" },
    { name: "Ligand (UNL)", color: "#d1292f" },
  ]

  const ssLegend = { l: 3214, t: 2521, w: 288, h: 410 }

  return (
    <div>
      <style>{"body{margin:0;background:#fff}"}</style>
      <svg width={3525} height={3664} viewBox="0 0 3525 3664" style={{ display: "block", background: "#fff" }}>
        <rect width={3525} height={3664} fill="#fff" />

        <Panel
          letter="A"
          letterX={40}
          letterY={92}
          box={boxA}
          xDomain={timeDomain}
          yDomain={padded([...RMSD_BACKBONE, ...RMSD_LIGAND])}
          xTicks={TIME_TICKS}
          yTicks={[0, 0.25, 0.5, 0.75, 1.0, 1.25, 1.5, 1.75]}
          yFmt={d3.format(".2f")}
          xLabel="Time (ns)"
          yLabel="RMSD (nm)"
          yLabelX={106}
          series={[
            { pts: zip(TIME_NS, RMSD_BACKBONE), color: rmsdLegend[0].color, width: 4.5 },
            { pts: zip(TIME_NS, RMSD_LIGAND), color: rmsdLegend[1].color, width: 4.5 },
          ]}
        >
          <g>
            <rect x={265} y={86} width={366} height={93} rx={8} fill="#fff" fillOpacity={0.8} stroke="#cfcfcf" strokeWidth={2.5} />
            {rmsdLegend.map((d, i) => (
              <g key={d.name}>
                <line x1={277} x2={337} y1={109 + i * 43} y2={109 + i * 43} stroke={d.color} strokeWidth={4.5} />
                <text x={360} y={109 + i * 43} fontFamily={FONT} fontSize={29} fill="#222" dominantBaseline="central">
                  {d.name}
                </text>
              </g>
            ))}
          </g>
        </Panel>

        <Panel
          letter="B"
          letterX={1681}
          letterY={92}
          box={boxB}
          xDomain={padded(RESIDUES)}
          yDomain={padded(allRmsf)}
          xTicks={RES_TICKS}
          yTicks={[0.1, 0.2, 0.3, 0.4, 0.5, 0.6, 0.7]}
          yFmt={d3.format(".1f")}
          xLabel="Residue Number"
          yLabel="RMSF (nm)"
          yLabelX={1678}
          series={[{ pts: rmsfPts, color: "#2e8b57", width: 4.5, opacity: 0.95 }]}
        />

        <Panel
          letter="C"
          letterX={40}
          letterY={1293}
          box={boxC}
          xDomain={timeDomain}
          yDomain={padded(RG)}
          xTicks={TIME_TICKS}
          yTicks={[3.66, 3.68, 3.7, 3.72, 3.74]}
          yFmt={d3.format(".2f")}
          xLabel="Time (ns)"
          yLabel="Rg (nm)"
          yLabelX={105}
          series={[{ pts: zip(TIME_NS, RG), color: "#6a48c8", width: 4.5 }]}
        />

        <Panel
          letter="D"
          letterX={1682}
          letterY={1273}
          box={boxD}
          xDomain={timeDomain}
          yDomain={padded(SASA)}
          xTicks={TIME_TICKS}
          yTicks={[530, 535, 540, 545, 550, 555]}
          yFmt={d3.format("d")}
          xLabel="Time (ns)"
          yLabel={
            <>
              <tspan>SASA (</tspan>
              <tspan fontStyle="italic">nm</tspan>
              <tspan fontStyle="italic" fontSize={23} dy={-12}>
                2
              </tspan>
              <tspan dy={12}>)</tspan>
            </>
          }
          yLabelX={1664}
          series={[{ pts: zip(TIME_NS, SASA), color: "#e06d1e", width: 4.5 }]}
        />

        <Panel
          letter="E"
          letterX={28}
          letterY={2536}
          box={boxE}
          xDomain={timeDomain}
          yDomain={padded(CONTACTS)}
          xTicks={TIME_TICKS}
          yTicks={[40, 50, 60, 70, 80, 90, 100]}
          yFmt={d3.format("d")}
          xLabel="Time (ns)"
          yLabel="Number of Contacts"
          yLabelX={120}
          series={[{ pts: zip(TIME_NS, CONTACTS), color: "#f28a30", width: 4.5 }]}
        >
          <line x1={642} x2={654} y1={2500} y2={2500} stroke="#999" strokeWidth={2} />
        </Panel>

        <Panel
          letter="F"
          letterX={1682}
          letterY={2500}
          box={boxF}
          xDomain={timeDomain}
          yDomain={padded(SS_VALUES.flat())}
          xTicks={TIME_TICKS}
          yTicks={[0, 100, 200, 300, 400]}
          yFmt={d3.format("d")}
          xLabel="Time (ns)"
          yLabel="Number of Residues"
          yLabelX={1668}
          series={SS_VALUES.map((v, i) => ({ pts: zip(TIME_NS, v), color: SS_COLORS[i], width: 4 }))}
        >
          <line x1={2469} x2={2481} y1={2498} y2={2498} stroke="#999" strokeWidth={2} />
          <line x1={2909} x2={2921} y1={2498} y2={2498} stroke="#999" strokeWidth={2} />
          <g>
            <rect x={ssLegend.l} y={ssLegend.t} width={ssLegend.w} height={ssLegend.h} rx={7} fill="#fff" fillOpacity={0.8} stroke="#d4d4d4" strokeWidth={2.5} />
            {SS_NAMES.map((name, i) => {
              const yy = ssLegend.t + 23 + i * 39.6
              return (
                <g key={name}>
                  <line x1={ssLegend.l + 5} x2={ssLegend.l + 63} y1={yy} y2={yy} stroke={SS_COLORS[i]} strokeWidth={4} />
                  <text x={ssLegend.l + 83} y={yy} fontFamily={FONT} fontSize={25} fill="#222" dominantBaseline="central">
                    {name}
                  </text>
                </g>
              )
            })}
          </g>
        </Panel>
      </svg>
    </div>
  )
}
